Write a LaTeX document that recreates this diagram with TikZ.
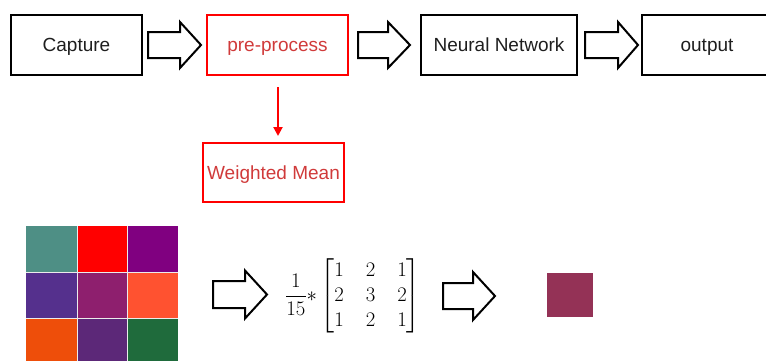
\documentclass[tikz,border=0pt]{standalone}
\usepackage{amsmath}
\usepackage{fontspec}
\setmainfont{Liberation Sans}
\usetikzlibrary{arrows.meta}
\definecolor{boxred}{HTML}{FF0000}
\definecolor{labred}{HTML}{D03A3A}
\definecolor{labgray}{HTML}{1E1E1E}
\definecolor{cA}{HTML}{4E8F85}
\definecolor{cB}{HTML}{FF0000}
\definecolor{cC}{HTML}{800080}
\definecolor{cD}{HTML}{55308D}
\definecolor{cE}{HTML}{8E1F6E}
\definecolor{cF}{HTML}{FF5230}
\definecolor{cG}{HTML}{EE4E0A}
\definecolor{cH}{HTML}{5C2878}
\definecolor{cI}{HTML}{1F6B3C}
\definecolor{cOut}{HTML}{943256}
\tikzset{
  stage/.style={draw=black, line width=2pt, minimum height=60pt, inner sep=0pt,
    text height=17.5pt, text depth=4pt,
    text=labgray, font=\fontsize{19}{22}\selectfont},
  redstage/.style={stage, draw=boxred, text=labred},
  fatarrow/.style={draw=black, line width=2pt, fill=white, line join=miter},
  pix/.style={draw=white!85!gray, line width=0.4pt}
}
% block arrow: from x1 to x2, head starting at xh, centred at yc
\newcommand{\fatarrowat}[6]{%
  \draw[fatarrow] (#1,#4-#5) -- (#3,#4-#5) -- (#3,#4-#6) -- (#2,#4)
    -- (#3,#4+#6) -- (#3,#4+#5) -- (#1,#4+#5) -- cycle;}
\begin{document}
\begin{tikzpicture}[x=1pt,y=-1pt]
\useasboundingbox (0,0) rectangle (766,360);
\clip (0,0) rectangle (766,360);

% pipeline stages
\node[stage, minimum width=131pt] (capture) at (76.5,45) {Capture};
\node[redstage, minimum width=141pt] (pre) at (277.5,45) {pre-process};
\node[stage, minimum width=156pt] (nn) at (499,45) {Neural Network};
\node[stage, minimum width=130pt] (out) at (707,45) {output};

\fatarrowat{148}{201}{180}{45}{13}{23}
\fatarrowat{358}{410}{388}{45}{13}{23}
\fatarrowat{585}{638}{618}{45}{13}{23}

% detail of the pre-processing step
\node[redstage, minimum width=141pt, minimum height=59pt] (wm) at (273.5,172.5) {Weighted Mean};
\coordinate (wmtop) at (278,87);
\draw[boxred, line width=2pt, -{Triangle[length=9pt,width=9pt]}]
  (wmtop) -- ([yshift=6pt]wm.north -| wmtop);

% 3x3 neighbourhood of pixels
\foreach \c [count=\i from 0] in {cA,cB,cC,cD,cE,cF,cG,cH,cI}{
  \pgfmathtruncatemacro{\col}{mod(\i,3)}
  \pgfmathtruncatemacro{\row}{div(\i,3)}
  \fill[\c] (26+50.7*\col,226+46*\row) rectangle ++(50.7,46);
}
\foreach \k in {1,2}{
  \draw[pix] (26+50.7*\k,226) -- ++(0,140);
  \draw[pix] (26,226+46*\k) -- ++(152,0);
}

\fatarrowat{213}{267}{245}{294.5}{13.5}{24}

% weighting kernel
\node[inner sep=0pt] (kernel) at (353,296) {\fontsize{20}{25}\selectfont
  \setlength{\arraycolsep}{11pt}%
  $\dfrac{1}{15}{*}\begin{bmatrix}1&2&1\\2&3&2\\1&2&1\end{bmatrix}$};

\fatarrowat{443}{495}{473}{296}{13}{24}

% resulting pixel
\node[fill=cOut, minimum width=46pt, minimum height=44pt, inner sep=0pt] (res) at (570,295) {};
\end{tikzpicture}
\end{document}
